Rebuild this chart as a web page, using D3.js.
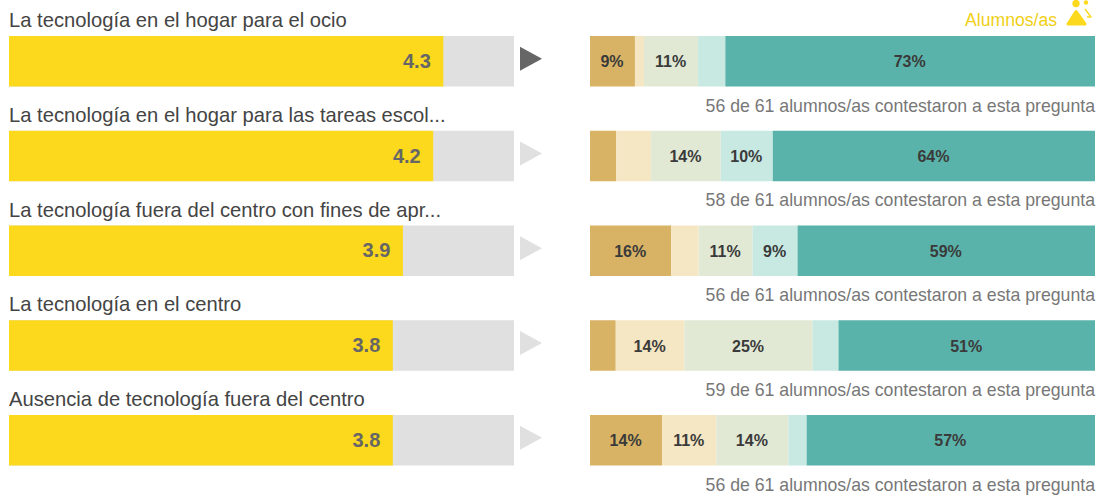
<!DOCTYPE html>
<html>
<head>
<meta charset="utf-8">
<title>Alumnos/as</title>
<script src="https://cdn.jsdelivr.net/npm/d3@7"></script>
<style>
    html, body { margin: 0; padding: 0; background: #fff; }
    svg { display: block; font-family: "Liberation Sans", Arial, sans-serif; }
</style>
</head>
<body>
<svg id="chart" width="1100" height="495"></svg>
<script>
var categories = [
    "La tecnología en el hogar para el ocio",
    "La tecnología en el hogar para las tareas escol...",
    "La tecnología fuera del centro con fines de apr...",
    "La tecnología en el centro",
    "Ausencia de tecnología fuera del centro"
];
var means = [4.3, 4.2, 3.9, 3.8, 3.8];
var answered = [56, 58, 56, 59, 56];
var totalStudents = 61;
var highlighted = [true, false, false, false, false];

// Percent of answers per level, row by row
var level1 = [8.9, 5.2, 16.1, 5.1, 14.3];
var level2 = [1.8, 6.9, 5.4, 13.6, 10.7];
var level3 = [10.7, 13.8, 10.7, 25.4, 14.3];
var level4 = [5.4, 10.3, 8.9, 5.1, 3.6];
var level5 = [73.2, 63.8, 58.9, 50.8, 57.1];

var levelColors = ["#d9b365", "#f5e7c3", "#e1e9d5", "#c7e9e2", "#5ab3aa"];

(function (d3) {
    "use strict";

    var svg = d3.select("#chart");

    var y = d3.scaleBand()
        .domain(d3.range(categories.length))
        .range([36, 465.5])
        .paddingInner(1 - 50.5 / 94.75);
    var xMean = d3.scaleLinear().domain([0, 5]).range([9, 514]);
    var xShare = d3.scaleLinear().domain([0, 100]).range([590, 1095]);

    var table = categories.map(function (name, i) {
        return {row: i, a: level1[i], b: level2[i], c: level3[i], d: level4[i], e: level5[i]};
    });
    var series = d3.stack().keys(["a", "b", "c", "d", "e"])(table);

    var rows = svg.selectAll("g.row")
        .data(categories)
        .join("g")
        .attr("class", "row");

    rows.append("text")
        .attr("x", 9)
        .attr("y", function (d, i) { return y(i) - 9; })
        .attr("font-size", 20.2)
        .attr("fill", "#444")
        .text(function (d) { return d; });

    // Left side: mean on a 0-5 track
    rows.append("rect")
        .attr("x", xMean(0))
        .attr("y", function (d, i) { return y(i); })
        .attr("width", xMean(5) - xMean(0))
        .attr("height", y.bandwidth())
        .attr("fill", "#e0e0e0");

    rows.append("rect")
        .attr("x", xMean(0))
        .attr("y", function (d, i) { return y(i); })
        .attr("width", function (d, i) { return xMean(means[i]) - xMean(0); })
        .attr("height", y.bandwidth())
        .attr("fill", "#fcd91c");

    rows.append("text")
        .attr("x", function (d, i) { return xMean(means[i]) - 12.5; })
        .attr("y", function (d, i) { return y(i) + y.bandwidth() / 2 + 6.5; })
        .attr("text-anchor", "end")
        .attr("font-size", 20)
        .attr("font-weight", "bold")
        .attr("fill", "#666")
        .text(function (d, i) { return means[i].toFixed(1); });

    rows.append("path")
        .attr("d", "M0,-12L22,0L0,12Z")
        .attr("transform", function (d, i) {
            return "translate(520," + (y(i) + y.bandwidth() / 2 - 2.5) + ")";
        })
        .attr("fill", function (d, i) { return highlighted[i] ? "#666" : "#e0e0e0"; });

    // Right side: answers split by level
    series.forEach(function (s, k) {
        svg.selectAll("rect.level" + k)
            .data(s)
            .join("rect")
            .attr("class", "level" + k)
            .attr("x", function (d) { return xShare(d[0]); })
            .attr("y", function (d) { return y(d.data.row); })
            .attr("width", function (d) { return xShare(d[1]) - xShare(d[0]); })
            .attr("height", y.bandwidth())
            .attr("fill", levelColors[k]);

        svg.selectAll("text.level" + k)
            .data(s.filter(function (d) { return d[1] - d[0] >= 8; }))
            .join("text")
            .attr("class", "level" + k)
            .attr("x", function (d) { return xShare((d[0] + d[1]) / 2) - 0.5; })
            .attr("y", function (d) { return y(d.data.row) + y.bandwidth() / 2 + 6; })
            .attr("text-anchor", "middle")
            .attr("font-size", 16)
            .attr("font-weight", "bold")
            .attr("fill", "#3a3a3a")
            .text(function (d) { return Math.round(d[1] - d[0]) + "%"; });
    });

    rows.append("text")
        .attr("x", 1095)
        .attr("y", function (d, i) { return y(i) + y.bandwidth() + 25; })
        .attr("text-anchor", "end")
        .attr("font-size", 17.7)
        .attr("fill", "#777")
        .text(function (d, i) { return answered[i] + " de " + totalStudents + " alumnos/as contestaron a esta pregunta"; });

    // Legend with the little students icon
    svg.append("text")
        .attr("x", 1057)
        .attr("y", 26)
        .attr("text-anchor", "end")
        .attr("font-size", 17.6)
        .attr("fill", "#f0cf14")
        .text("Alumnos/as");

    var icon = svg.append("g").attr("fill", "#fcd91c");
    icon.append("circle").attr("cx", 1076).attr("cy", 3.5).attr("r", 3.7);
    icon.append("circle").attr("cx", 1086).attr("cy", 2.5).attr("r", 2.2);
    icon.append("path")
        .attr("d", "M1076,11.5L1085,24L1068,24Z")
        .attr("stroke", "#fcd91c")
        .attr("stroke-width", 3)
        .attr("stroke-linejoin", "round");
    icon.append("path")
        .attr("d", "M1085,9L1091,17L1087,17")
        .attr("fill", "none")
        .attr("stroke", "#fcd91c")
        .attr("stroke-width", 1.4)
        .attr("stroke-linejoin", "round");

}(window.d3));
</script>
</body>
</html>
